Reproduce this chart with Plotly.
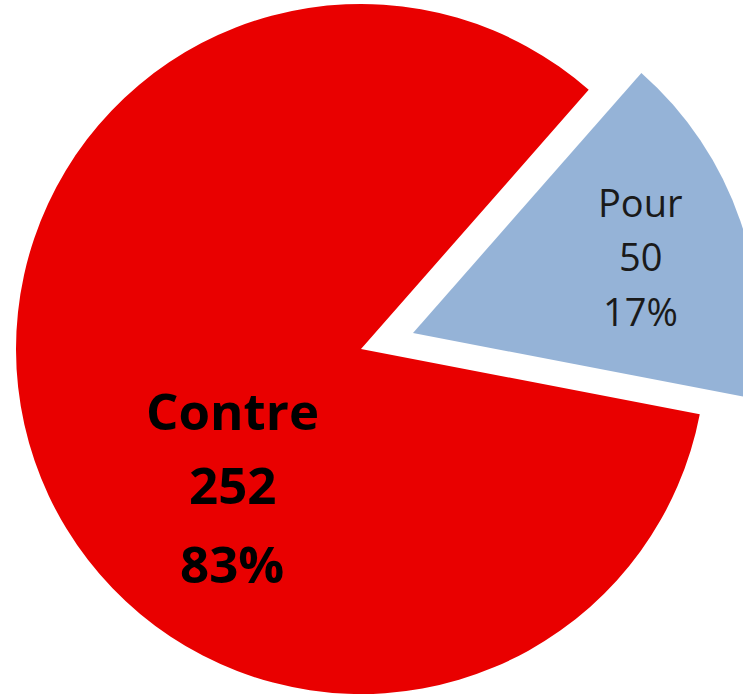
import plotly.graph_objects as go

# ---- data ----
labels = ["Pour", "Contre"]
values = [50, 252]
colors = ["#95B3D7", "#E90000"]

total = sum(values)
percents = [round(v * 100 / total) for v in values]

W, H = 760, 720
OFF = 14  # page is shifted up by this many px so the exploded slice can reach the top edge
TRANSPARENT = "rgba(0,0,0,0)"


def dom(cx, cy, r):
    cy = cy + OFF
    return dict(x=[(cx - r) / W, (cx + r) / W], y=[1 - (cy + r) / H, 1 - (cy - r) / H])


common = dict(
    labels=labels,
    values=values,
    sort=False,
    direction="clockwise",
    rotation=41.3,
    textinfo="none",
    hoverinfo="label+value+percent",
    showlegend=False,
)

fig = go.Figure()
# main pie: "Contre" slice
fig.add_trace(go.Pie(
    **common,
    marker=dict(colors=[TRANSPARENT, colors[1]], line=dict(width=0)),
    domain=dom(361, 349, 345),
))
# exploded slice: "Pour"
fig.add_trace(go.Pie(
    **common,
    marker=dict(colors=[colors[0], TRANSPARENT], line=dict(width=0)),
    domain=dom(413, 333, 346),
))

# labels
label_specs = [
    # (index, x, ys, size, bold, color)
    (0, 640, [202, 256, 311], 38, False, "#1a1a1a"),
    (1, 232, [410, 484, 563], 51, True, "#000000"),
]
for idx, x, ys, size, bold, col in label_specs:
    lines = [labels[idx], str(values[idx]), f"{percents[idx]}%"]
    for line, y in zip(lines, ys):
        txt = f"<b>{line}</b>" if bold else line
        fig.add_annotation(
            x=x / W, y=1 - (y + OFF) / H, xref="paper", yref="paper",
            text=txt, showarrow=False, xanchor="center", yanchor="middle",
            font=dict(family="Open Sans", size=size, color=col),
        )

fig.update_layout(
    width=W, height=H,
    margin=dict(l=0, r=0, t=0, b=0),
    paper_bgcolor="white",
    plot_bgcolor="white",
)

fig.write_html(
    "out.html",
    config={"displayModeBar": False},
    post_script=f"document.body.style.margin='0px'; document.body.style.marginTop='-{OFF}px';",
)
